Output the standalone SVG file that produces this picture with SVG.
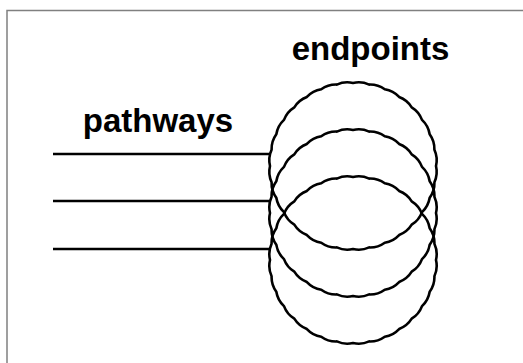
<svg xmlns="http://www.w3.org/2000/svg" width="523" height="363" viewBox="0 0 523 363">
<style>
.frame{fill:none;stroke:#808080;stroke-width:1.5}
.wire{stroke:#000;stroke-width:2.5;fill:none}
.ring{fill:none;stroke:#000;stroke-width:2.6;stroke-linejoin:round}
.lbl{font-family:"Liberation Sans",Arial,Helvetica,sans-serif;font-weight:bold;font-size:33px;fill:#000}
</style>
<defs>
<path id="wavy" d="M83,0 A25,25 0 0 1 81.41,16.19 A25,25 0 0 1 76.68,31.76 A25,25 0 0 1 69.01,46.11 A25,25 0 0 1 58.69,58.69 A25,25 0 0 1 46.11,69.01 A25,25 0 0 1 31.76,76.68 A25,25 0 0 1 16.19,81.41 A25,25 0 0 1 0,83 A25,25 0 0 1 -16.19,81.41 A25,25 0 0 1 -31.76,76.68 A25,25 0 0 1 -46.11,69.01 A25,25 0 0 1 -58.69,58.69 A25,25 0 0 1 -69.01,46.11 A25,25 0 0 1 -76.68,31.76 A25,25 0 0 1 -81.41,16.19 A25,25 0 0 1 -83,0 A25,25 0 0 1 -81.41,-16.19 A25,25 0 0 1 -76.68,-31.76 A25,25 0 0 1 -69.01,-46.11 A25,25 0 0 1 -58.69,-58.69 A25,25 0 0 1 -46.11,-69.01 A25,25 0 0 1 -31.76,-76.68 A25,25 0 0 1 -16.19,-81.41 A25,25 0 0 1 0,-83 A25,25 0 0 1 16.19,-81.41 A25,25 0 0 1 31.76,-76.68 A25,25 0 0 1 46.11,-69.01 A25,25 0 0 1 58.69,-58.69 A25,25 0 0 1 69.01,-46.11 A25,25 0 0 1 76.68,-31.76 A25,25 0 0 1 81.41,-16.19 A25,25 0 0 1 83,0 Z"/>
</defs>
<rect width="523" height="363" fill="#fff"/>
<rect class="frame" x="7" y="10.5" width="530" height="370"/>
<g id="connectors">
<line class="wire" x1="53" y1="154" x2="271" y2="154"/>
<line class="wire" x1="53" y1="201" x2="271" y2="201"/>
<line class="wire" x1="53" y1="249" x2="271" y2="249"/>
</g>
<g id="endpoint-1"><use href="#wavy" class="ring" transform="translate(353,166)"/></g>
<g id="endpoint-2"><use href="#wavy" class="ring" transform="translate(353,213)"/></g>
<g id="endpoint-3"><use href="#wavy" class="ring" transform="translate(353,260)"/></g>
<g id="label-pathways"><text class="lbl" x="158" y="132" text-anchor="middle">pathways</text></g>
<g id="label-endpoints"><text class="lbl" x="370.5" y="59.5" text-anchor="middle">endpoints</text></g>
</svg>
